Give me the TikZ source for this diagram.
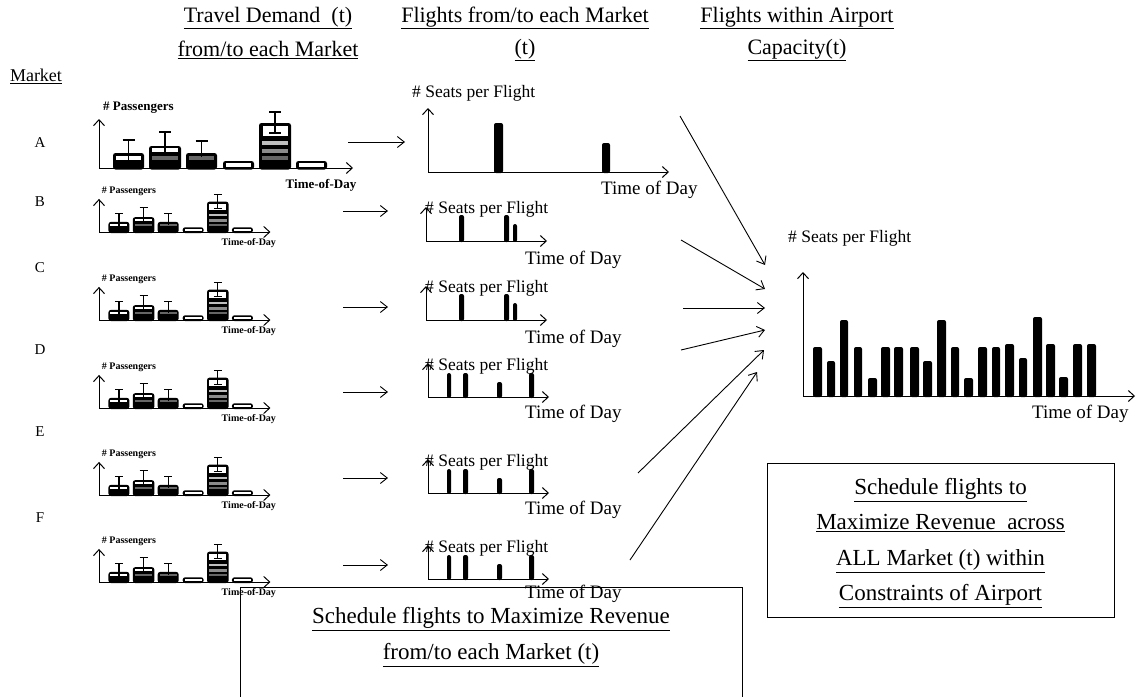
\documentclass[tikz,border=0pt]{standalone}
\usepackage{fontspec}
\setmainfont{Liberation Serif}
\usetikzlibrary{arrows.meta}

\tikzset{
  axis/.style={line width=1pt,-{Straight Barb[length=6pt,width=11pt,line width=1pt]}},
  link/.style={line width=0.9pt,-{Straight Barb[length=7pt,width=11pt,line width=0.9pt]}},
  head/.style={font=\fontsize{22}{26}\selectfont,inner sep=0pt},
  letter/.style={font=\fontsize{15}{18}\selectfont,inner sep=0pt},
  seats/.style={font=\fontsize{17.5}{20}\selectfont,inner sep=0pt,anchor=west},
  tod/.style={font=\fontsize{19}{22}\selectfont,inner sep=0pt,anchor=west},
  flightbar/.style={fill=black,rounded corners=2pt},
  demandbar/.style={fill=black,rounded corners=2.5pt},
  errbar/.style={line width=1.2pt},
  boxtext/.style={font=\fontsize{23}{36.5}\selectfont,align=center,inner sep=0pt},
}

% one demand bar: left, right, top
\newcommand\dbar[3]{\fill[demandbar] (#1,1.5) rectangle (#2,#3);}
% inner stripe of a demand bar: left, right, height, colour
\newcommand\dstripe[4]{\fill[#4] ({#1+3},{#3-1.6}) rectangle ({#2-3},{#3+1.6});}
% error bar: centre, from, to
\newcommand\derr[3]{\draw[errbar] (#1,#2) -- (#1,#3) ({#1-6},#3) -- ({#1+6},#3);}

% demand chart: origin x, origin y, scale, label size, name
\newcommand\demandchart[5]{%
  \begin{scope}[shift={(#1,#2)},scale=#3]
    \draw[axis] (0,0) -- (0,-49);
    \draw[axis] (0,0) -- (254,0);
    \dbar{14}{45}{-15}\dstripe{14}{45}{-10}{white}\derr{29.5}{-8}{-28}
    \dbar{50}{82}{-22}\dstripe{50}{82}{-18}{white}\dstripe{50}{82}{-10}{black!60}\derr{66}{-16}{-36}
    \dbar{87}{118}{-15}\dstripe{87}{118}{-10}{black!60}\derr{102.5}{-11}{-27}
    \dbar{124}{155}{-7}\dstripe{124}{155}{-3}{white}
    \dbar{160}{192}{-45}
    \fill[white] (163.5,-42) rectangle (188.5,-32);
    \dstripe{160}{192}{-25}{black!25}\dstripe{160}{192}{-17}{black!45}\dstripe{160}{192}{-10}{black!60}
    \derr{176}{-35}{-56}\draw[errbar] (170,-35) -- (182,-35);
    \dbar{197}{228}{-7}\dstripe{197}{228}{-3}{white}
    \node[anchor=west,inner sep=0pt,font=\bfseries\fontsize{#4}{#4}\selectfont] (#5p) at (4,-60) {\# Passengers};
    \node[inner sep=0pt,font=\bfseries\fontsize{#4}{#4}\selectfont] (#5t) at (222,17) {Time-of-Day};
  \end{scope}}

\begin{document}
\begin{tikzpicture}[x=1pt,y=-1pt]
\useasboundingbox (0,0) rectangle (1139,696);

% column headings
\node[head] (h1a) at (268,18) {\underline{Travel Demand\ \ (t)}};
\node[head] (h1b) at (268,50) {\underline{from/to each Market}};
\node[head] (h2a) at (525,18) {\underline{Flights from/to each Market}};
\node[head] (h2b) at (525,50) {\underline{(t)}};
\node[head] (h3a) at (797,18) {\underline{Flights within Airport}};
\node[head] (h3b) at (797,50) {\underline{Capacity(t)}};

\node[letter,font=\fontsize{18}{20}\selectfont] (mk) at (36,76) {\underline{Market}};
\node[letter] (lA) at (40,143) {A};
\node[letter] (lB) at (40,202) {B};
\node[letter] (lC) at (40,268) {C};
\node[letter] (lD) at (40,350) {D};
\node[letter] (lE) at (40,432) {E};
\node[letter] (lF) at (40,518) {F};

% demand per market
\demandchart{99}{168}{1}{13}{dA}
\demandchart{99}{232}{0.675}{10}{dB}
\demandchart{99}{320}{0.675}{10}{dC}
\demandchart{99}{408}{0.675}{10}{dD}
\demandchart{99}{495}{0.675}{10}{dE}
\demandchart{99}{582}{0.675}{10}{dF}

% flights per market
\begin{scope}[shift={(428,172)}]
  \draw[axis] (0,0) -- (0,-64);
  \draw[axis] (0,0) -- (241,0);
  \fill[flightbar] (66,1) rectangle (75,-49);
  \fill[flightbar] (174,1) rectangle (182,-29);
\end{scope}
\node[seats] (sA) at (412,93) {\# Seats per Flight};
\node[tod] (tA) at (601,190) {Time of Day};

\foreach \n/\oy in {B/241,C/320}{
  \begin{scope}[shift={(426,\oy)}]
    \draw[axis] (0,0) -- (0,-34);
    \draw[axis] (0,0) -- (121,0);
    \fill[flightbar] (33,1) rectangle (38,-26);
    \fill[flightbar] (78,1) rectangle (83,-26);
    \fill[flightbar] (87,1) rectangle (91,-17);
  \end{scope}
  \node[seats] (s\n) at (425,\oy-32) {\# Seats per Flight};
  \node[tod] (t\n) at (525,\oy+19) {Time of Day};
}
\foreach \n/\oy/\d in {D/397/17,E/493/17,F/579/15}{
  \begin{scope}[shift={(428,\oy)}]
    \draw[axis] (0,0) -- (0,-34);
    \draw[axis] (0,0) -- (121,0);
    \fill[flightbar] (19,1) rectangle (23,-24);
    \fill[flightbar] (35,1) rectangle (40,-24);
    \fill[flightbar] (69,1) rectangle (74,-15);
    \fill[flightbar] (101,1) rectangle (106,-24);
  \end{scope}
  \node[seats] (s\n) at (425,\oy-31) {\# Seats per Flight};
  \node[tod] (t\n) at (525,\oy+\d) {Time of Day};
}

% airport capacity
\draw[axis] (803,396) -- (803,272);
\draw[axis] (803,396) -- (1135,396);
\foreach \a/\b/\t in {813/822/347,827/835/361,840/848/320,854/862/347,868/877/378,
  881/890/347,894/903/347,910/919/347,923/932/361,937/946/320,951/959/347,
  964/973/378,978/987/347,992/1000/347,1005/1014/344,1019/1027/358,1033/1042/317,
  1046/1055/344,1059/1068/377,1073/1082/344,1087/1096/344}
  \fill[flightbar] (\a,397) rectangle (\b,\t);
\node[seats] (sR) at (788,238) {\# Seats per Flight};
\node[tod] (tR) at (1032,414) {Time of Day};

% demand -> flights
\coordinate (dA1) at (348,142); \coordinate (fA1) at (405,142);
\coordinate (dB1) at (343,211); \coordinate (fB1) at (388,211);
\coordinate (dC1) at (343,307); \coordinate (fC1) at (388,307);
\coordinate (dD1) at (343,392); \coordinate (fD1) at (388,392);
\coordinate (dE1) at (343,478); \coordinate (fE1) at (388,478);
\coordinate (dF1) at (343,565); \coordinate (fF1) at (388,565);
\foreach \n in {A,B,C,D,E,F} \draw[link] (d\n1) -- (f\n1);

% flights -> airport
\coordinate (fA2) at (680,116); \coordinate (cA) at (765,265);
\coordinate (fB2) at (681,240); \coordinate (cB) at (765,289);
\coordinate (fC2) at (683,308); \coordinate (cC) at (765,308);
\coordinate (fD2) at (681,350); \coordinate (cD) at (765,330);
\coordinate (fE2) at (638,473); \coordinate (cE) at (764,350);
\coordinate (fF2) at (630,560); \coordinate (cF) at (757,372);
\foreach \n in {A,B,C,D,E,F} \draw[link] (f\n2) -- (c\n);

% goal boxes
\draw[line width=0.8pt] (240,697) -- (240,587) -- (742,587) -- (742,697);
\node[boxtext] (goal1) at (491,637) {\underline{Schedule flights to Maximize Revenue}\\\underline{from/to each Market (t)}};
\node[draw,line width=0.8pt,minimum width=347pt,minimum height=154pt] (box2) at (940.5,540) {};
\node[boxtext,font=\fontsize{23}{35.5}\selectfont] (goal2) at (940.5,543) {\underline{Schedule flights to}\\\underline{Maximize Revenue\ \ across}\\\underline{ALL Market (t) within}\\\underline{Constraints of Airport}};
\end{tikzpicture}
\end{document}
